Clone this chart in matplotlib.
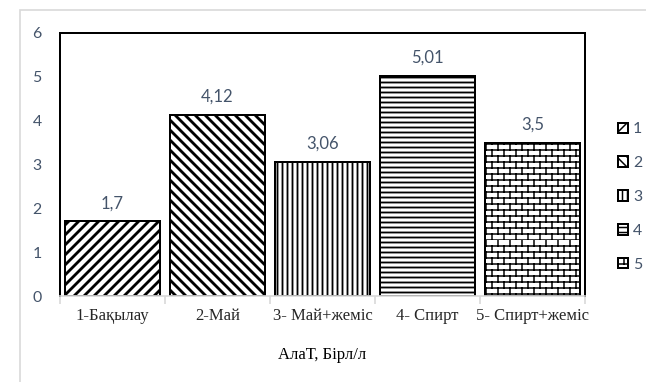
import warnings
import numpy as np
import matplotlib
matplotlib.use("Agg")
import matplotlib.pyplot as plt
from matplotlib import hatch as mhatch
from matplotlib.path import Path
from matplotlib.patches import Rectangle

warnings.filterwarnings("ignore")

# данные
categories = ["1-Бақылау", "2-Май", "3- Май+жеміс", "4- Спирт", "5- Спирт+жеміс"]
values = [1.7, 4.12, 3.06, 5.01, 3.5]
legend_labels = ["1", "2", "3", "4", "5"]
hatches = ["////", "\\\\\\\\", "||||", "----", "b"]


class BrickHatch(mhatch.HatchPatternBase):
    """Кірпіш тәрізді штрихтау ('b')."""

    def __init__(self, hatch, density):
        self.rows = 20 if "b" in hatch else 0
        self.cols = 10
        self.num_vertices = self.rows * (2 + 2 * self.cols)

    def set_vertices_and_codes(self, vertices, codes):
        k = 0
        for i in range(self.rows):
            y0 = i / self.rows
            y1 = (i + 1) / self.rows
            vertices[k] = (0.0, y0)
            vertices[k + 1] = (1.0, y0)
            k += 2
            off = 0.5 * (i % 2)
            for j in range(self.cols):
                x = (j + off) / self.cols
                vertices[k] = (x, y0)
                vertices[k + 1] = (x, y1)
                k += 2
        codes[0::2] = Path.MOVETO
        codes[1::2] = Path.LINETO


mhatch._hatch_types.append(BrickHatch)

plt.rcParams["font.family"] = ["Lato", "DejaVu Sans"]

fig = plt.figure(figsize=(646 / 120, 382 / 120), dpi=120)
ax = fig.add_axes([60 / 646, 1 - 296 / 382, 525 / 646, 263 / 382])

# сыртқы рамка
fig.patches.append(Rectangle((20 / 646, -0.1), 1.0, 1 - 10 / 382 + 0.1,
                             transform=fig.transFigure, fill=False,
                             edgecolor="#D9D9D9", lw=1.0))

x = np.arange(len(categories))
hatch_lw = [1.7, 1.7, 1.1, 1.1, 0.9]
for i in range(len(categories)):
    plt.rcParams["hatch.linewidth"] = hatch_lw[i]
    b = ax.bar(x[i], values[i], width=0.9, color="white", edgecolor="black",
               linewidth=1.2, hatch=hatches[i], label=legend_labels[i])
    for p in b:
        if hasattr(p, "set_hatch_linewidth"):
            p.set_hatch_linewidth(hatch_lw[i])

for xi, v in zip(x, values):
    ax.annotate(f"{v:g}".replace(".", ","), (xi, v), xytext=(0, 11),
                textcoords="offset points", ha="center", va="center",
                fontsize=10, color="#44546A")

ax.set_xlim(-0.5, len(categories) - 0.5)
ax.set_ylim(0, 6)
ax.set_yticks(range(0, 7))
ax.tick_params(axis="y", length=0, pad=11, labelsize=9.5, labelcolor="#44546A")

ax.set_xticks(x)
ax.set_xticklabels(categories, family="Liberation Serif", fontsize=10,
                   color="#262626")
ax.set_xticks(np.arange(-0.5, len(categories)), minor=True)
ax.tick_params(axis="x", which="major", length=0, pad=7)
ax.tick_params(axis="x", which="minor", length=5, color="#D9D9D9", width=1)

for s in ["top", "left", "right"]:
    ax.spines[s].set_color("black")
    ax.spines[s].set_linewidth(1.2)
ax.spines["bottom"].set_color("#D9D9D9")
ax.spines["bottom"].set_linewidth(1.0)

ax.set_xlabel("АлаТ, Бірл/л", family="Liberation Serif", fontsize=10,
              color="black", labelpad=14)

fig.legend(loc="center left", bbox_to_anchor=(610 / 646, 1 - 197 / 382),
           frameon=False, fontsize=9.5, labelcolor="#44546A",
           handlelength=0.65, handleheight=0.65, handletextpad=0.3,
           labelspacing=1.25, borderpad=0)

fig.savefig("out.png", dpi=120)
